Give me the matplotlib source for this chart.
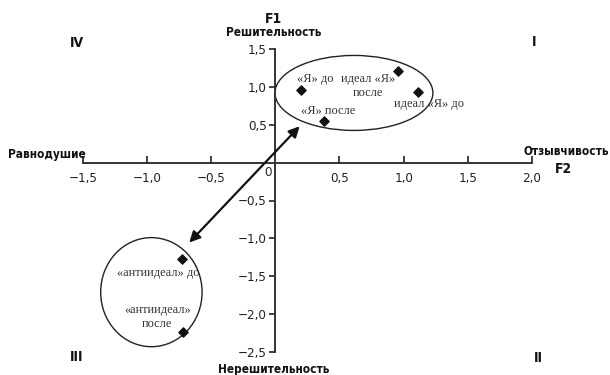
import matplotlib
matplotlib.use("Agg")
import matplotlib.pyplot as plt
from matplotlib.patches import Ellipse
from matplotlib.ticker import FixedLocator, FuncFormatter

# точки (F2, F1)
names = ["«Я» до", "«Я» после", "идеал «Я»\nпосле", "идеал «Я» до",
         "«антиидеал» до", "«антиидеал»\nпосле"]
f2 = [0.20, 0.38, 0.96, 1.11, -0.73, -0.72]
f1 = [0.96, 0.55, 1.21, 0.93, -1.27, -2.23]
# положение подписей
lab_x = [0.31, 0.41, 0.72, 1.20, -0.91, -0.92]
lab_y = [1.11, 0.68, 1.01, 0.77, -1.46, -2.04]

x_ticks = [-1.5, -1.0, -0.5, 0.5, 1.0, 1.5, 2.0]
y_ticks = [-2.5, -2.0, -1.5, -1.0, -0.5, 0.5, 1.0, 1.5]

W, H = 610, 375
fig = plt.figure(figsize=(W / 100, H / 100), dpi=100)
ax = fig.add_axes([82.7 / W, 1 - 352 / H, (532 - 82.7) / W, (352 - 49) / H])
ax.set_xlim(-1.5, 2.0)
ax.set_ylim(-2.5, 1.5)

axc = "#333333"
ax.spines["left"].set_position(("data", 0))
ax.spines["bottom"].set_position(("data", 0))
ax.spines["right"].set_visible(False)
ax.spines["top"].set_visible(False)
for s in ("left", "bottom"):
    ax.spines[s].set_linewidth(1.4)
    ax.spines[s].set_color(axc)

fmt = FuncFormatter(lambda v, p: ("%.1f" % v).replace(".", ",").replace("-", "\u2212"))
ax.xaxis.set_major_locator(FixedLocator(x_ticks))
ax.yaxis.set_major_locator(FixedLocator(y_ticks))
ax.xaxis.set_major_formatter(fmt)
ax.yaxis.set_major_formatter(fmt)

ax.tick_params(axis="x", direction="in", length=5, width=1.3, color=axc, pad=7,
               labelsize=9.5, labelcolor="#222222")
ax.tick_params(axis="y", direction="out", length=4, width=1.3, color=axc, pad=2,
               labelsize=9.5, labelcolor="#222222")
for lab in ax.get_xticklabels() + ax.get_yticklabels():
    lab.set_fontstretch("condensed")

# эллипсы
ax.add_patch(Ellipse((0.613, 0.92), 1.23, 0.99, fill=False, lw=1.0, ec="#222222"))
ax.add_patch(Ellipse((-0.965, -1.71), 0.79, 1.44, fill=False, lw=1.0, ec="#222222"))

# стрелка
ax.annotate("", xy=(0.19, 0.48), xytext=(-0.67, -1.055),
            arrowprops=dict(arrowstyle="<|-|>", lw=1.6, color="#111111",
                            mutation_scale=16, shrinkA=0, shrinkB=0))

ax.scatter(f2, f1, marker="D", s=22, color="#111111", zorder=5)
for n, x, y in zip(names, lab_x, lab_y):
    ax.text(x, y, n, ha="center", va="center", fontsize=8.9,
            family="Liberation Serif", color="#333333", linespacing=1.2)

# подписи осей и квадрантов
def ftext(px, py, s, **kw):
    fig.text(px / W, 1 - py / H, s, **kw)

bold = dict(fontweight="bold", family="DejaVu Sans", stretch="condensed", color="#111111")
ftext(274, 19, "F1", ha="center", va="center", fontsize=10, **bold)
ftext(274, 33, "Решительность", ha="center", va="center", fontsize=8.5, **bold)
ftext(274, 369, "Нерешительность", ha="center", va="center", fontsize=8.5, **bold)
ftext(8, 154, "Равнодушие", ha="left", va="center", fontsize=8.5, **bold)
ftext(609, 151, "Отзывчивость", ha="right", va="center", fontsize=8.5, **bold)
ftext(564, 169, "F2", ha="center", va="center", fontsize=10, **bold)
ftext(77, 43, "IV", ha="center", va="center", fontsize=10, **bold)
ftext(534, 42, "I", ha="center", va="center", fontsize=10, **bold)
ftext(77, 357, "III", ha="center", va="center", fontsize=10, **bold)
ftext(538, 358, "II", ha="center", va="center", fontsize=10, **bold)
ftext(268, 172, "0", ha="center", va="center", fontsize=9.5,
      family="DejaVu Sans", stretch="condensed", color="#222222")

fig.savefig("out.png", dpi=100)
